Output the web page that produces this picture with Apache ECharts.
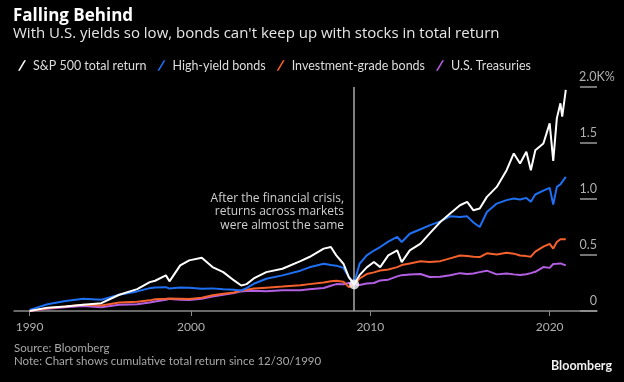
<!DOCTYPE html>
<html>
<head>
<meta charset="utf-8">
<script src="https://cdn.jsdelivr.net/npm/echarts@6/dist/echarts.min.js"></script>
<style>
html,body{margin:0;padding:0;background:#000;}
#chart{width:624px;height:382px;}
</style>
</head>
<body>
<div id="chart"></div>
<script>
// Dates (decimal years) shared by all series
const dates = [1991.0, 1992.0, 1993.0, 1994.0, 1995.0, 1996.0, 1997.0, 1997.7, 1998.0, 1998.6, 1998.8, 1999.4, 1999.9, 2000.6, 2001.2, 2001.8, 2002.4, 2002.8, 2003.1, 2003.5, 2004.2, 2005.1, 2006.1, 2006.6, 2007.4, 2007.8, 2008.1, 2008.5, 2008.8, 2009.1, 2009.4, 2009.8, 2010.2, 2010.55, 2011.0, 2011.5, 2011.75, 2012.2, 2012.8, 2013.3, 2013.9, 2014.45, 2015.0, 2015.4, 2015.75, 2016.1, 2016.5, 2017.05, 2017.6, 2018.0, 2018.35, 2018.7, 2018.95, 2019.2, 2019.65, 2020.0, 2020.2, 2020.4, 2020.6, 2020.7, 2020.9];

// Cumulative total return (%) since 12/30/1990
const sp500 = [0, 30, 40, 55, 70, 145, 195, 258, 270, 318, 265, 407, 452, 476, 392, 347, 273, 228, 240, 291, 347, 377, 445, 482, 557, 571, 497, 422, 303, 237, 320, 390, 437, 392, 497, 541, 437, 541, 601, 691, 795, 870, 944, 974, 899, 915, 1019, 1108, 1257, 1407, 1317, 1421, 1257, 1436, 1496, 1675, 1340, 1720, 1854, 1735, 1975];
const highYield = [10, 60, 90, 109, 100, 145, 175, 204, 210, 213, 200, 210, 208, 199, 202, 195, 190, 183, 205, 243, 288, 318, 360, 390, 422, 410, 405, 385, 303, 250, 422, 497, 540, 571, 620, 661, 616, 690, 730, 765, 800, 845, 840, 845, 790, 750, 884, 959, 990, 1004, 995, 1010, 975, 1040, 1075, 1100, 950, 1108, 1130, 1140, 1197];
const investGrade = [0, 25, 40, 55, 50, 75, 82, 95, 105, 109, 112, 110, 108, 118, 140, 155, 165, 183, 190, 200, 208, 218, 230, 240, 255, 265, 270, 262, 213, 237, 290, 330, 345, 362, 370, 392, 410, 425, 445, 437, 445, 470, 495, 490, 485, 482, 515, 505, 520, 512, 495, 490, 485, 530, 575, 600, 557, 616, 640, 630, 640];
const treasuries = [0, 20, 34, 45, 34, 55, 60, 75, 85, 100, 108, 100, 98, 110, 130, 145, 160, 175, 178, 180, 177, 185, 185, 195, 205, 225, 240, 238, 250, 240, 232, 245, 250, 273, 280, 309, 320, 325, 330, 303, 305, 320, 338, 330, 335, 347, 360, 327, 335, 327, 322, 328, 338, 350, 392, 385, 420, 422, 425, 418, 407];

const seriesNames = ['S&P 500 total return', 'High-yield bonds', 'Investment-grade bonds', 'U.S. Treasuries'];
const seriesColors = ['#ffffff', '#1f6ff2', '#f4612c', '#b35fe3'];
const xLabelValues = [1991, 2000, 2010, 2020];
const xLabelTexts = ['1990', '2000', '2010', '2020'];
const yTickLabels = {0: '0', 500: '0.5', 1000: '1.0', 1500: '1.5', 2000: '2.0K%'};
const crisisDate = 2009.1;
const crisisValue = 237;

const FONT = 'Lato';
const FONT2 = 'Open Sans';
const pair = arr => dates.map((d, i) => [d, arr[i]]);
const allValues = [sp500, highYield, investGrade, treasuries];
const slash = 'path://M7,0 L9,0 L2,12 L0,12 Z';

const series = allValues.map((vals, i) => ({
  name: seriesNames[i],
  type: 'line',
  data: pair(vals),
  showSymbol: false,
  symbol: 'none',
  lineStyle: {color: seriesColors[i], width: 2},
  itemStyle: {color: seriesColors[i]},
  z: 10 - i
}));
series[0].z = 11;
series[0].markLine = {
  silent: true,
  symbol: 'none',
  label: {show: false},
  lineStyle: {color: '#a8a8a8', width: 1.5, type: 'solid'},
  data: [{xAxis: crisisDate}],
  z: 1
};
series.push({
  type: 'scatter',
  data: [[crisisDate, crisisValue]],
  symbolSize: 10,
  itemStyle: {color: '#ffffff'},
  z: 20,
  silent: true
});

const chart = echarts.init(document.getElementById('chart'), null, {renderer: 'canvas'});
chart.setOption({
  backgroundColor: '#000000',
  animation: false,
  title: [
    {
      text: 'Falling Behind',
      subtext: "With U.S. yields so low, bonds can't keep up with stocks in total return",
      left: 13, top: 8, padding: 0,
      itemGap: 1,
      textStyle: {color: '#ffffff', fontFamily: FONT2, fontWeight: 'bold', fontSize: 17},
      subtextStyle: {color: '#e6e6e6', fontFamily: FONT2, fontSize: 15}
    },
    {
      text: 'Source: Bloomberg\nNote: Chart shows cumulative total return since 12/30/1990',
      left: 14, top: 342, padding: 0,
      textStyle: {color: '#a8a8a8', fontFamily: FONT, fontSize: 11.5, fontWeight: 'normal', lineHeight: 13}
    },
    {
      text: 'Bloomberg',
      right: 12, top: 359, padding: 0,
      textStyle: {color: '#f0f0f0', fontFamily: FONT, fontSize: 12.5, fontWeight: 'bold'}
    }
  ],
  legend: {
    data: seriesNames.map((n, i) => ({name: n, icon: slash, itemStyle: {color: seriesColors[i]}})),
    left: 13, top: 54,
    itemWidth: 8, itemHeight: 12,
    itemGap: 11,
    textStyle: {color: '#dddddd', fontFamily: FONT, fontSize: 12.5, padding: [0, 0, 0, 2]},
    selectedMode: false
  },
  grid: {left: 14, right: 27, top: 87, bottom: 71, containLabel: false},
  xAxis: {
    type: 'value',
    min: 1990.13, max: 2022.64,
    axisLine: {show: true, lineStyle: {color: '#8a8a8a', width: 1.5}},
    axisTick: {show: true, customValues: xLabelValues, length: 5, lineStyle: {color: '#8a8a8a', width: 1}},
    axisLabel: {
      customValues: xLabelValues,
      formatter: v => xLabelTexts[xLabelValues.indexOf(Math.round(v))] || '',
      color: '#b0b0b0', fontFamily: FONT, fontSize: 12, margin: 10
    },
    splitLine: {show: false}
  },
  yAxis: {
    type: 'value',
    position: 'right',
    min: 0, max: 2000, interval: 500,
    axisLine: {show: false},
    axisTick: {show: true, inside: true, length: 17, lineStyle: {color: '#9a9a9a', width: 1.5}},
    axisLabel: {
      inside: true,
      margin: 18,
      align: 'left',
      verticalAlign: 'bottom',
      padding: [0, 0, 4, 0],
      color: '#b0b0b0', fontFamily: FONT, fontSize: 12.5,
      formatter: v => v === 2000 ? '{t|' + yTickLabels[v] + '}' : '{n|' + (yTickLabels[v] || '') + '}',
      rich: {
        n: {width: 18, align: 'right', color: '#b0b0b0', fontFamily: FONT, fontSize: 12.5},
        t: {align: 'left', color: '#b0b0b0', fontFamily: FONT, fontSize: 12.5}
      }
    },
    splitLine: {show: false}
  },
  graphic: [{
    type: 'text',
    x: 344, y: 212,
    style: {
      text: 'After the financial crisis,\nreturns across markets\nwere almost the same',
      align: 'right', verticalAlign: 'middle',
      fill: '#cfcfcf', font: '12px "' + FONT2 + '"', lineHeight: 13.5
    },
    z: 30
  }],
  series: series
});
</script>
</body>
</html>
